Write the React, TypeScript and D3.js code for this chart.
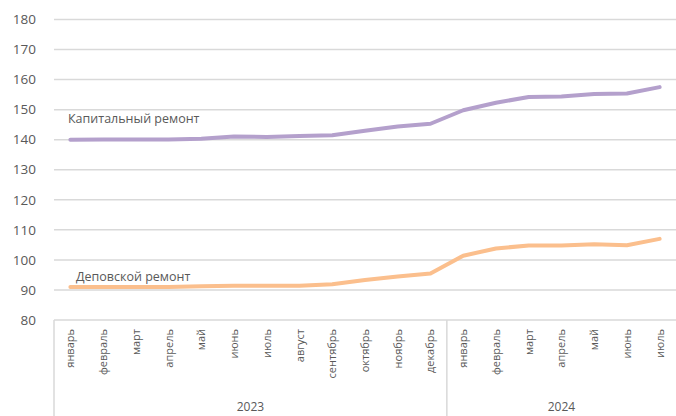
import React from "react";
import * as d3 from "d3";

const months = ["январь","февраль","март","апрель","май","июнь","июль","август","сентябрь","октябрь","ноябрь","декабрь","январь","февраль","март","апрель","май","июнь","июль"];
const years = ["2023", "2024"];
const yearCounts = [12, 7];
const kapital = [140.0,140.1,140.1,140.1,140.3,141.1,140.9,141.2,141.5,143.0,144.4,145.3,149.8,152.3,154.2,154.4,155.2,155.4,157.5];
const depo = [91.0,91.0,91.0,91.0,91.2,91.4,91.4,91.4,91.9,93.3,94.5,95.5,101.4,103.8,104.8,104.8,105.2,104.9,107.0];
const yTicks = [80,90,100,110,120,130,140,150,160,170,180];

export default function App() {
  const W = 676, H = 416;
  const left = 54, right = 676;
  const x = d3.scaleBand<number>().domain(months.map((_, i) => i)).range([left, right]);
  const y = d3.scaleLinear().domain([80, 180]).range([320, 19.5]);
  const cx = (i: number) => (x(i) as number) + x.bandwidth() / 2;
  const line = d3.line<number>().x((_, i) => cx(i)).y(d => y(d));
  const font = "'Open Sans', sans-serif";
  const gray = "#595959";
  let acc = 0;
  const bounds = yearCounts.map(c => { const s = acc; acc += c; return [s, acc]; });
  return (
    <svg width={W} height={H} style={{ position: "absolute", left: 0, top: 0, background: "#fff" }}>
      {yTicks.map(t => (
        <g key={t}>
          <line x1={left} x2={right} y1={y(t)} y2={y(t)} stroke="#d9d9d9" strokeWidth={1.5} />
          <text x={36} y={y(t)} dy="0.35em" textAnchor="end" fontFamily={font} fontSize={13.5} fill={gray}>{t}</text>
        </g>
      ))}
      {bounds.map(([s, e], k) => {
        const x0 = x(s) as number;
        const x1 = e >= months.length ? right : (x(e) as number);
        return (
          <g key={k}>
            <line x1={x0} x2={x0} y1={y(80)} y2={H} stroke="#d9d9d9" strokeWidth={1.5} />
            <text x={(x0 + x1) / 2} y={411} textAnchor="middle" fontFamily={font} fontSize={12} fill={gray}>{years[k]}</text>
          </g>
        );
      })}
      {months.map((m, i) => (
        <text key={i} transform={`translate(${cx(i) + 4},329) rotate(-90)`} textAnchor="end" fontFamily={font} fontSize={11} fill={gray}>{m}</text>
      ))}
      <path d={line(kapital) || ""} fill="none" stroke="#b4a0cc" strokeWidth={4} strokeLinecap="round" strokeLinejoin="round" />
      <path d={line(depo) || ""} fill="none" stroke="#fbbf8d" strokeWidth={4} strokeLinecap="round" strokeLinejoin="round" />
      <text x={68} y={123} fontFamily={font} fontSize={12.5} fill={gray}>Капитальный ремонт</text>
      <text x={76} y={281} fontFamily={font} fontSize={12.5} fill={gray}>Деповской ремонт</text>
    </svg>
  );
}
